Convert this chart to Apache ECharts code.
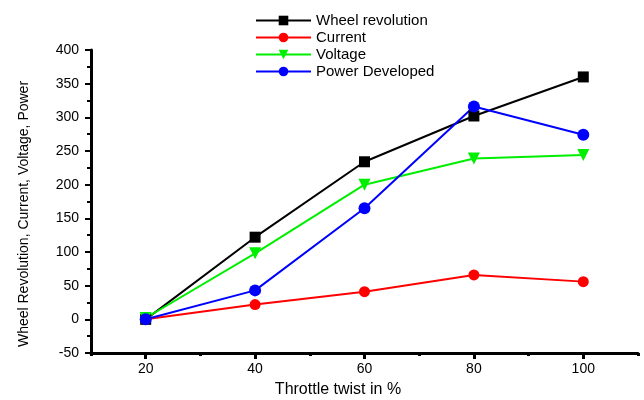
<!DOCTYPE html>
<html><head><meta charset="utf-8">
<script src="https://cdn.jsdelivr.net/npm/echarts@6/dist/echarts.min.js"></script>
<style>html,body{margin:0;padding:0;background:#fff}#c{width:644px;height:400px}</style>
</head><body><div id="c"></div>
<script>
const throttle = [20, 40, 60, 80, 100];
const wheelRevolution = [0, 122, 234, 302, 360];
const current = [0, 22, 41, 66, 56];
const voltage = [2, 98, 200, 239, 244];
const powerDeveloped = [0, 43, 165, 316, 274];
const xTickLabels = [20, 40, 60, 80, 100];
const xMinorTicks = [10, 30, 50, 70, 90, 110];

const pair = arr => throttle.map((x, i) => [x, arr[i]]);
const font = 'Liberation Sans, Arial, sans-serif';
const chart = echarts.init(document.getElementById('c'));
function mk(name, data, color, symbol, size) {
  return { name, type: 'line', data: pair(data), symbol, symbolSize: size,
    lineStyle: { color, width: 2 }, itemStyle: { color }, z: 3 };
}
chart.setOption({
  animation: false,
  grid: { left: 91, right: 6, top: 50, bottom: 47 },
  legend: {
    orient: 'vertical', left: 250, top: 8, itemWidth: 55, itemHeight: 12, itemGap: 2,
    textStyle: { fontFamily: font, fontSize: 15, lineHeight: 15, color: '#000' },
    data: ['Wheel revolution', 'Current', 'Voltage', 'Power Developed']
  },
  xAxis: [{
    type: 'value', min: 10, max: 110, interval: 10,
    axisLine: { onZero: false, lineStyle: { color: '#000', width: 3 } },
    axisTick: { customValues: xTickLabels, length: 6, lineStyle: { width: 3, color: '#000' } },
    axisLabel: { customValues: xTickLabels, fontFamily: font, fontSize: 14, color: '#000', margin: 9 },
    splitLine: { show: false }
  }, {
    type: 'value', min: 10, max: 110, position: 'bottom',
    axisLine: { show: false, onZero: false },
    axisTick: { customValues: xMinorTicks, length: 3, lineStyle: { width: 3, color: '#000' } },
    axisLabel: { show: false }, splitLine: { show: false }
  }],
  yAxis: {
    type: 'value', min: -50, max: 400, interval: 50,
    axisLine: { show: true, lineStyle: { color: '#000', width: 3 } },
    axisTick: { show: true, length: 6, lineStyle: { width: 2, color: '#000' } },
    minorTick: { show: true, splitNumber: 2, length: 4, lineStyle: { width: 2, color: '#000' } },
    axisLabel: { fontFamily: font, fontSize: 14, color: '#000', margin: 12 },
    splitLine: { show: false }
  },
  graphic: [
    { type: 'text', x: 24, y: 214, rotation: Math.PI / 2,
      style: { text: 'Wheel Revolution, Current, Voltage, Power', fontFamily: font, fontSize: 14,
        fill: '#000', align: 'center', verticalAlign: 'middle' } },
    { type: 'text', x: 338, y: 390,
      style: { text: 'Throttle twist in %', fontFamily: font, fontSize: 16,
        fill: '#000', align: 'center', verticalAlign: 'middle' } }
  ],
  series: [
    mk('Wheel revolution', wheelRevolution, '#000000', 'rect', 11),
    mk('Current', current, '#ff0000', 'circle', 11),
    mk('Voltage', voltage, '#00ee00', 'triangle', 12),
    mk('Power Developed', powerDeveloped, '#0000ff', 'circle', 12)
  ]
});
chart.setOption({ series: [{}, {}, { symbolRotate: 180 }, {}] });
</script></body></html>
